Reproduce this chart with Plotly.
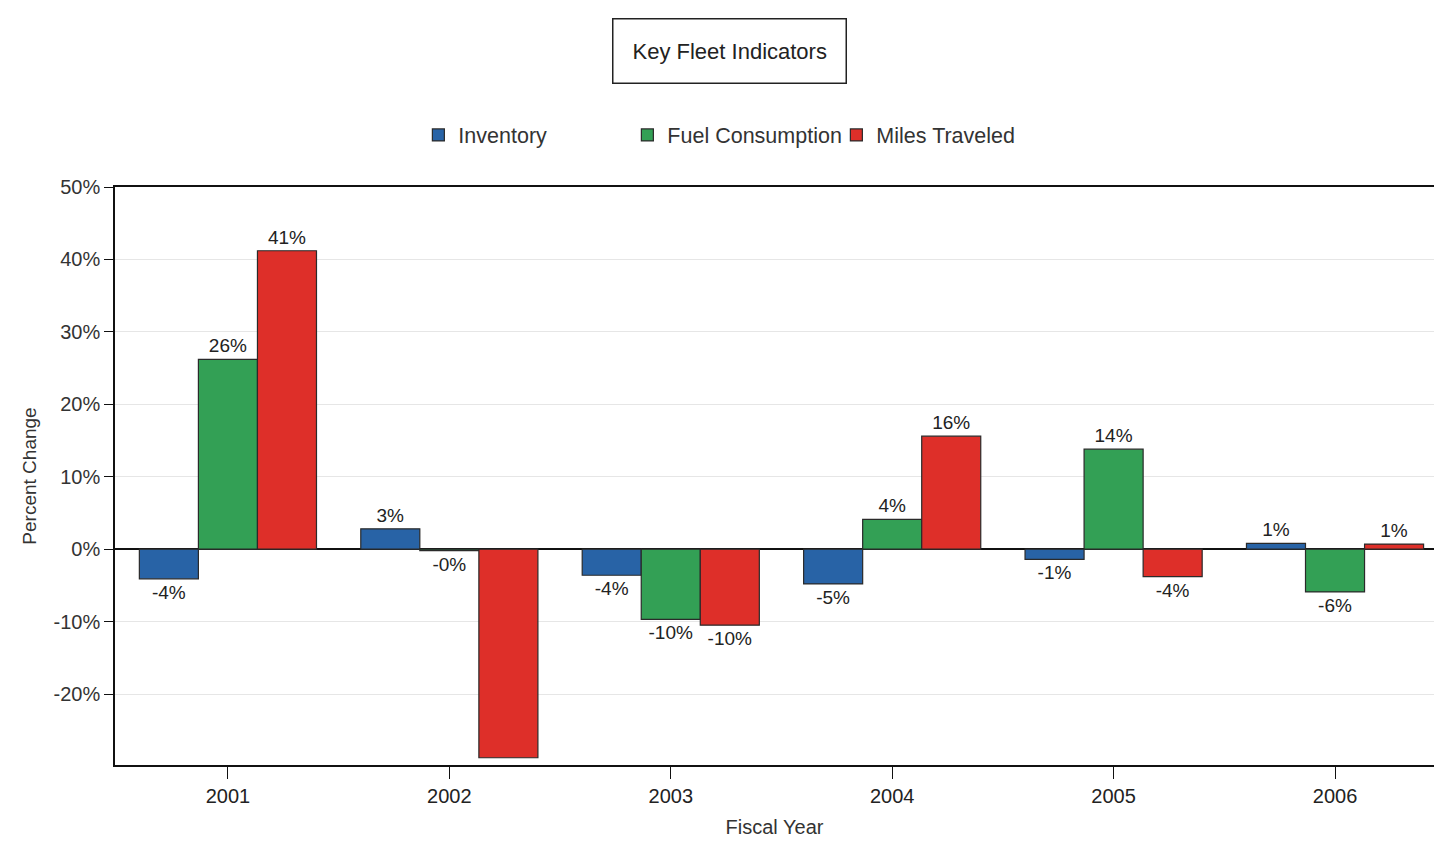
import plotly.graph_objects as go

years = ["2001", "2002", "2003", "2004", "2005", "2006"]
inventory = [-4.1, 2.8, -3.6, -4.8, -1.4, 0.8]
fuel = [26.2, -0.2, -9.7, 4.1, 13.8, -5.9]
miles = [41.2, -28.8, -10.5, 15.6, -3.8, 0.7]

series = [
    ("Inventory", inventory, "#2863a6"),
    ("Fuel Consumption", fuel, "#33a055"),
    ("Miles Traveled", miles, "#de2f29"),
]

font_family = "Liberation Sans, Arial, sans-serif"

fig = go.Figure()
for name, vals, color in series:
    fig.add_trace(go.Bar(
        name=name, x=years, y=vals,
        marker=dict(color=color, line=dict(color="#2a2a2a", width=1.2)),
        text=[f"{v:.0f}%" for v in vals],
        textposition="outside",
        textfont=dict(size=19, color="#222", family=font_family),
        cliponaxis=True,
    ))

fig.update_layout(
    width=1426, height=835,
    paper_bgcolor="white", plot_bgcolor="white",
    barmode="group", bargap=0.2, bargroupgap=0,
    margin=dict(l=107, r=0, t=179, b=78),
    font=dict(family=font_family, size=20, color="#222"),
    showlegend=True,
    legend=dict(
        orientation="h", x=0.23, xanchor="left", y=1.09, yanchor="middle",
        yref="paper", entrywidth=164, entrywidthmode="pixels",
        font=dict(size=21.5, color="#333"), itemwidth=30,
        bgcolor="rgba(0,0,0,0)",
    ),
    annotations=[dict(
        text="Key Fleet Indicators", xref="paper", yref="paper",
        x=0.466, y=1.235, xanchor="center", yanchor="middle",
        showarrow=False, font=dict(size=22, color="#222"),
        bordercolor="#222", borderwidth=1.5, borderpad=19,
        bgcolor="white",
    )],
)

fig.update_yaxes(
    range=[-29.8, 50], tickvals=[-20, -10, 0, 10, 20, 30, 40, 50],
    ticktext=["-20%", "-10%", "0%", "10%", "20%", "30%", "40%", "50%"],
    showgrid=True, gridcolor="#e6e6e6", gridwidth=1,
    zeroline=True, zerolinecolor="#111", zerolinewidth=1.5,
    showline=True, linecolor="#111", linewidth=1.5,
    ticks="outside", ticklen=9, tickcolor="#111",
    tickfont=dict(size=20, color="#333"),
    title=dict(text="Percent Change", font=dict(size=19, color="#333"), standoff=12),
)
fig.update_xaxes(
    range=[-0.51, 5.447],
    showline=True, linecolor="#111", linewidth=1.5, mirror=True,
    ticks="outside", ticklen=12, tickcolor="#111",
    tickfont=dict(size=20, color="#222"),
    title=dict(text="Fiscal Year", font=dict(size=20, color="#333"), standoff=14),
)

fig.write_html("out.html")
